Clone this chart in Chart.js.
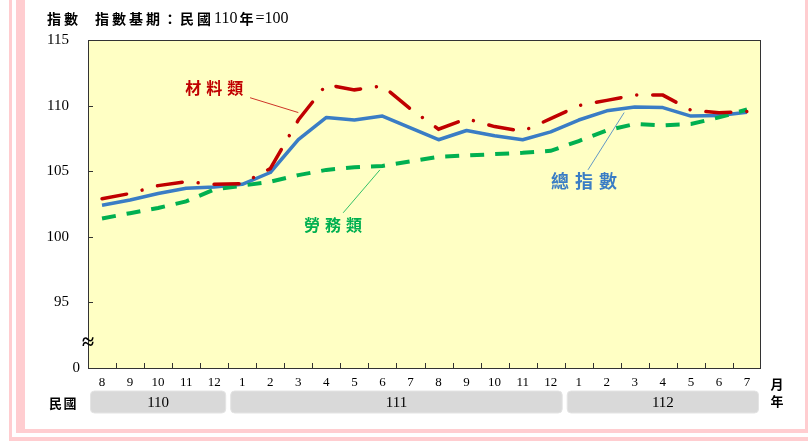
<!DOCTYPE html>
<html><head><meta charset="utf-8">
<script src="https://cdn.jsdelivr.net/npm/chart.js@4/dist/chart.umd.min.js"></script>
<style>html,body{margin:0;padding:0;background:#fff;}canvas{display:block;}</style>
</head><body>
<canvas id="c" width="808" height="441"></canvas>
<script>
// ---- data ----
const months = ['8','9','10','11','12','1','2','3','4','5','6','7','8','9','10','11','12','1','2','3','4','5','6','7'];
const years = ['110','111','112'];
const totalIndex = [102.4,102.8,103.3,103.7,103.8,104.0,104.9,107.4,109.1,108.9,109.2,108.3,107.4,108.1,107.7,107.4,108.0,108.9,109.6,109.9,109.85,109.2,109.25,109.5];
const materials  = [102.9,103.3,103.9,104.2,104.0,104.05,105.2,108.9,111.6,111.2,111.5,109.75,108.2,109.0,108.4,108.05,109.0,110.0,110.4,110.8,110.8,109.65,109.45,109.55];
const services   = [101.4,101.8,102.2,102.7,103.6,103.9,104.2,104.7,105.1,105.3,105.4,105.75,106.1,106.2,106.3,106.4,106.55,107.3,108.1,108.6,108.5,108.6,109.1,109.7];
const yTicks = [90,95,100,105,110,115];
const yTickLabels = ['0','95','100','105','110','115'];

const CJK = '"Noto Sans CJK TC","Noto Sans CJK SC",sans-serif';
const SERIF = '"Liberation Serif","DejaVu Serif",serif';

function spaced(ctx, text, x, y, spacing) {
  for (const ch of text) { ctx.fillText(ch, x, y); x += ctx.measureText(ch).width + spacing; }
  return x;
}
function spacedWidth(ctx, text, spacing) {
  let w = 0; for (const ch of text) w += ctx.measureText(ch).width + spacing; return w - spacing;
}

const decor = {
  id: 'decor',
  beforeDraw(chart) {
    const ctx = chart.ctx, a = chart.chartArea;
    ctx.save();
    ctx.fillStyle = '#fff'; ctx.fillRect(0, 0, chart.width, chart.height);
    ctx.fillStyle = '#ffcdd0';
    ctx.fillRect(9, 0, 3, 441);
    ctx.fillRect(9, 437, 799, 4);
    ctx.fillRect(16, 0, 9, 433);
    ctx.fillRect(16, 429, 792, 4);
    ctx.fillRect(805, 0, 3, 433);
    ctx.fillStyle = '#ffffc4';
    ctx.fillRect(a.left, a.top, a.right - a.left, a.bottom - a.top);
    ctx.restore();
  },
  afterDraw(chart) {
    const ctx = chart.ctx, a = chart.chartArea;
    const xs = chart.scales.x, ys = chart.scales.y;
    ctx.save();
    // frame
    ctx.strokeStyle = '#333'; ctx.lineWidth = 1;
    ctx.strokeRect(a.left + 0.5, a.top + 0.5, a.right - a.left - 1, a.bottom - a.top);
    // inward ticks
    ctx.beginPath();
    yTicks.forEach(v => { if (v > 90 && v < 115) { const y = Math.round(ys.getPixelForValue(v)) + 0.5; ctx.moveTo(a.left, y); ctx.lineTo(a.left + 5, y); } });
    const step = xs.getPixelForValue(1) - xs.getPixelForValue(0);
    for (let i = 1; i < months.length; i++) {
      const x = Math.round(xs.getPixelForValue(i) - step / 2) + 0.5;
      ctx.moveTo(x, a.bottom); ctx.lineTo(x, a.bottom - 5);
    }
    ctx.stroke();
    // axis break and "0"
    ctx.fillStyle = '#000'; ctx.textBaseline = 'middle';
    ctx.font = 'bold 22px ' + SERIF; ctx.textAlign = 'center';
    ctx.fillText('≈', a.left, ys.getPixelForValue(91.9));
    ctx.font = '15px ' + SERIF; ctx.textAlign = 'right';
    ctx.fillText(yTickLabels[0], a.left - 8, ys.getPixelForValue(yTicks[0]));
    // title
    ctx.textAlign = 'left';
    ctx.font = 'bold 14px ' + CJK;
    spaced(ctx, '指數', 47, 19, 3);
    let x = spaced(ctx, '指數基期：民國', 95, 19, 3);
    ctx.font = '16px ' + SERIF; ctx.fillText('110', x, 19); x += ctx.measureText('110').width + 2;
    ctx.font = 'bold 14px ' + CJK; ctx.fillText('年', x, 19); x += ctx.measureText('年').width + 2;
    ctx.font = '16px ' + SERIF; ctx.fillText('=100', x, 19);
    // year boxes
    const groups = [];
    months.forEach((m, i) => { if (i === 0 || m === '1') groups.push({ s: i, e: i }); else groups[groups.length - 1].e = i; });
    groups.forEach((g, k) => {
      const x0 = xs.getPixelForValue(g.s) - step / 2 + 2.5, x1 = xs.getPixelForValue(g.e) + step / 2 - 2.5;
      const y0 = 391, y1 = 413;
      ctx.beginPath(); ctx.roundRect(x0, y0, x1 - x0, y1 - y0, 4);
      ctx.fillStyle = '#d9d9d9'; ctx.fill();
      ctx.strokeStyle = '#e4e4e4'; ctx.lineWidth = 1; ctx.stroke();
      ctx.fillStyle = '#000'; ctx.font = '15px ' + SERIF; ctx.textAlign = 'center';
      ctx.fillText(years[k], (x0 + x1) / 2, 403);
    });
    ctx.textAlign = 'left'; ctx.font = 'bold 13px ' + CJK; ctx.fillStyle = '#000';
    spaced(ctx, '民國', 49, 403, 1.5);
    ctx.textAlign = 'center';
    ctx.fillText('月', 777, 384);
    ctx.fillText('年', 777, 401);
    // annotations (anchored in data coordinates)
    const notes = [
      { t: '材料類', c: '#c00000', i: 4.0, v: 111.37, l: [5.28, 110.6, 7.0, 109.47], size: 16, sp: 5 },
      { t: '勞務類', c: '#00b050', i: 8.24, v: 100.92, l: [8.6, 101.83, 9.91, 105.1], size: 16, sp: 5 },
      { t: '總指數', c: '#3a7dc5', i: 17.19, v: 104.27, l: [17.33, 105.1, 18.62, 109.47], size: 18, sp: 6 }
    ];
    notes.forEach(n => {
      ctx.strokeStyle = n.c; ctx.lineWidth = 0.8;
      ctx.beginPath();
      ctx.moveTo(xs.getPixelForValue(n.l[0]), ys.getPixelForValue(n.l[1]));
      ctx.lineTo(xs.getPixelForValue(n.l[2]), ys.getPixelForValue(n.l[3]));
      ctx.stroke();
      ctx.fillStyle = n.c; ctx.font = 'bold ' + n.size + 'px ' + CJK; ctx.textAlign = 'left';
      const w = spacedWidth(ctx, n.t, n.sp);
      spaced(ctx, n.t, xs.getPixelForValue(n.i) - w / 2, ys.getPixelForValue(n.v), n.sp);
    });
    ctx.restore();
  }
};

new Chart(document.getElementById('c'), {
  type: 'line',
  data: {
    labels: months,
    datasets: [
      { label: '材料類', data: materials, borderColor: '#c00000', borderWidth: 3.5, borderDash: [25, 16, 0.01, 16], borderCapStyle: 'round', pointRadius: 0, tension: 0, order: 0 },
      { label: '勞務類', data: services, borderColor: '#00b050', borderWidth: 4, borderDash: [14, 11], pointRadius: 0, tension: 0, order: 1 },
      { label: '總指數', data: totalIndex, borderColor: '#3a7dc5', borderWidth: 3.5, borderJoinStyle: 'round', pointRadius: 0, tension: 0, order: 2 }
    ]
  },
  options: {
    responsive: false, animation: false, devicePixelRatio: 1,
    layout: { padding: { top: 40, right: 47, left: 0, bottom: 0 } },
    plugins: { legend: { display: false }, tooltip: { enabled: false } },
    scales: {
      x: {
        offset: true,
        grid: { display: false, drawTicks: false },
        border: { display: false },
        ticks: { font: { family: 'Liberation Serif', size: 13 }, color: '#000', padding: 7, maxRotation: 0, autoSkip: false },
        afterFit(s) { s.height = 73; }
      },
      y: {
        min: 90, max: 115,
        grid: { display: false, drawTicks: false },
        border: { display: false },
        afterBuildTicks(s) { s.ticks = yTicks.map(v => ({ value: v })); },
        ticks: { font: { family: 'Liberation Serif', size: 15 }, color: '#000', padding: 19,
          callback: v => v === yTicks[0] ? '' : yTickLabels[yTicks.indexOf(v)] },
        afterFit(s) { s.width = 88; }
      }
    }
  },
  plugins: [decor]
});
</script>
</body></html>
